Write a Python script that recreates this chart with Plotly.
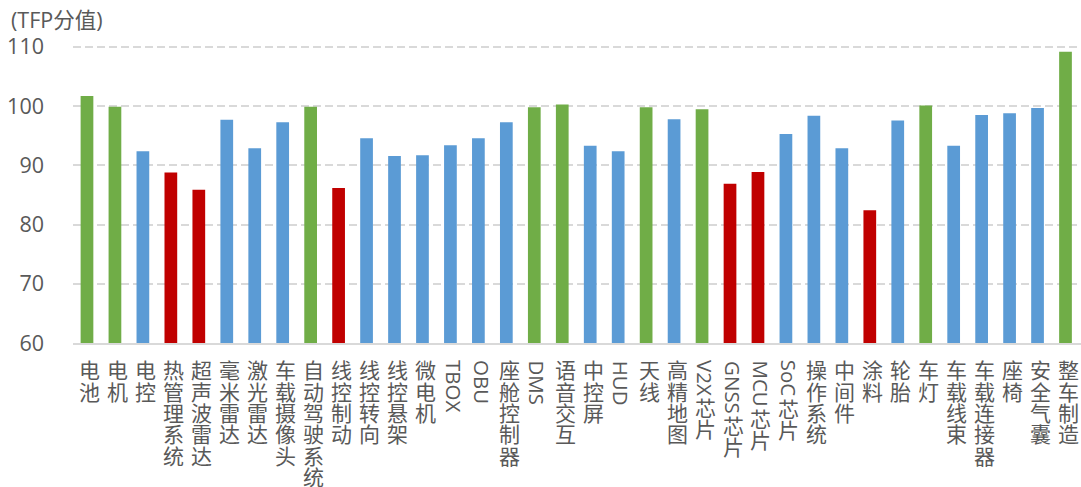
import re
import plotly.graph_objects as go

categories = ['电池', '电机', '电控', '热管理系统', '超声波雷达', '毫米雷达', '激光雷达', '车载摄像头',
              '自动驾驶系统', '线控制动', '线控转向', '线控悬架', '微电机', 'TBOX', 'OBU', '座舱控制器',
              'DMS', '语音交互', '中控屏', 'HUD', '天线', '高精地图', 'V2X芯片', 'GNSS芯片', 'MCU芯片',
              'SoC芯片', '操作系统', '中间件', '涂料', '轮胎', '车灯', '车载线束', '车载连接器', '座椅',
              '安全气囊', '整车制造']
tfp = [101.7, 99.9, 92.4, 88.8, 85.9, 97.7, 92.9, 97.3,
       99.9, 86.2, 94.6, 91.6, 91.7, 93.4, 94.6, 97.3,
       99.8, 100.3, 93.3, 92.4, 99.8, 97.8, 99.5, 86.9, 88.9,
       95.3, 98.4, 92.9, 82.4, 97.6, 100.1, 93.3, 98.5, 98.8,
       99.7, 109.2]
tier = ['hi', 'hi', 'mid', 'lo', 'lo', 'mid', 'mid', 'mid',
        'hi', 'lo', 'mid', 'mid', 'mid', 'mid', 'mid', 'mid',
        'hi', 'hi', 'mid', 'mid', 'hi', 'mid', 'hi', 'lo', 'lo',
        'mid', 'mid', 'mid', 'lo', 'mid', 'hi', 'mid', 'mid', 'mid',
        'mid', 'hi']

tier_color = {'hi': '#70AD47', 'mid': '#5B9BD5', 'lo': '#C00000'}
FONT = 'Open Sans, Noto Sans CJK SC, sans-serif'
GREY = '#595959'

fig = go.Figure(go.Bar(
    x=categories, y=tfp,
    marker=dict(color=[tier_color[t] for t in tier], line=dict(width=0)),
))

# vertical category labels: CJK upright, latin runs rotated (Open Sans advance widths, em)
latin_em = {'T': .56, 'B': .64, 'O': .78, 'X': .56, 'D': .73, 'M': .90, 'S': .55, 'H': .74,
            'U': .72, 'V': .59, '2': .57, 'G': .73, 'N': .77, 'C': .63, 'o': .60}
ann = []
for name in categories:
    pos = 17.4
    for tok in re.findall(r'[A-Za-z0-9]+|.', name):
        if tok.isascii():
            w = sum(latin_em.get(c, .6) for c in tok) * 20.5
            ann.append(dict(x=name, xref='x', y=0, yref='paper', text=tok, textangle=90,
                            showarrow=False, xanchor='center', yanchor='middle',
                            xshift=3, yshift=-(pos + w / 2),
                            font=dict(family=FONT, size=20.5, color=GREY)))
            pos += w + 2
        else:
            ann.append(dict(x=name, xref='x', y=0, yref='paper', text=tok,
                            showarrow=False, xanchor='center', yanchor='middle',
                            xshift=3, yshift=-(pos + 10),
                            font=dict(family=FONT, size=21, color=GREY)))
            pos += 21.3

ann.append(dict(x=0, xref='paper', y=1, yref='paper', text='(TFP分值)', showarrow=False,
                xanchor='left', yanchor='middle', xshift=-64, yshift=25,
                font=dict(family=FONT, size=21.5, color=GREY)))

fig.update_xaxes(
    type='category', showticklabels=False, ticks='',
    showline=True, linecolor='#D9D9D9', linewidth=2, showgrid=False
)
fig.update_yaxes(
    range=[60, 110.5], tickvals=[60, 70, 80, 90, 100, 110],
    showgrid=True, gridcolor='#D9D9D9', gridwidth=1.5,
    griddash='8px,4px', zeroline=False, ticks='', ticklabelstandoff=28,
    tickfont=dict(family=FONT, size=21.5, color=GREY)
)
fig.update_layout(
    width=1081, height=487,
    margin=dict(l=73, r=0, t=44, b=144),
    paper_bgcolor='white', plot_bgcolor='white',
    bargap=0.545, showlegend=False,
    annotations=ann,
)

fig.write_html('out.html', config={'displayModeBar': False},
               post_script="document.body.style.margin='0';")
